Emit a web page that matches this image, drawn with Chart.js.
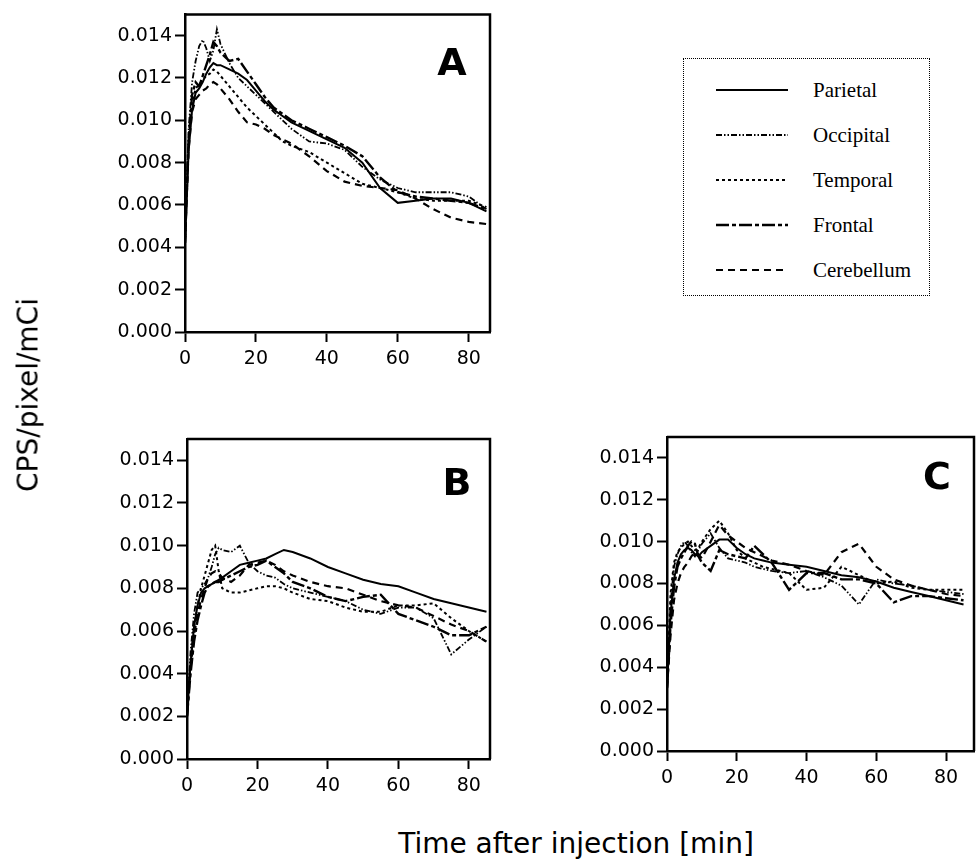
<!DOCTYPE html>
<html><head><meta charset="utf-8">
<script src="https://cdn.jsdelivr.net/npm/chart.js@4.4.0/dist/chart.umd.min.js"></script>
<style>
html,body{margin:0;padding:0;background:#fff;}
#wrap{position:relative;width:976px;height:859px;overflow:hidden;background:#fff;}
#wrap canvas{position:absolute;}
#legend{position:absolute;left:683px;top:58px;width:247px;height:238px;border:1.5px dotted #000;box-sizing:border-box;font-family:"Liberation Serif","Times New Roman",serif;font-size:21px;color:#000;}
.lrow{position:absolute;left:0;height:30px;width:100%;}
.lrow svg{position:absolute;left:31px;top:0;}
.lrow span{position:absolute;left:129px;top:0;line-height:30px;white-space:nowrap;}
#ytitle{position:absolute;left:28px;top:395px;transform:translate(-50%,-50%) rotate(-90deg);font-family:"DejaVu Sans",sans-serif;font-size:28px;white-space:nowrap;color:#000;}
#xtitle{position:absolute;left:576px;top:843px;transform:translate(-50%,-50%);font-family:"DejaVu Sans",sans-serif;font-size:28px;white-space:nowrap;color:#000;}
</style></head>
<body>
<div id="wrap">
<canvas id="cA"></canvas>
<canvas id="cB"></canvas>
<canvas id="cC"></canvas>
<div id="legend"></div>
<div id="ytitle">CPS/pixel/mCi</div>
<div id="xtitle">Time after injection [min]</div>
</div>
<script>
// ---- data ----
const timeMin = [0,1,2,3,4,5,6,7,8,9,10,12.5,15,17.5,20,22.5,25,27.5,30,35,40,45,50,55,60,65,70,75,80,85];
const seriesNames = ['Parietal','Occipital','Temporal','Frontal','Cerebellum'];
const panelLetters = ['A','B','C'];
const yTickValues = [0,0.002,0.004,0.006,0.008,0.010,0.012,0.014];
const xTickValues = [0,20,40,60,80];

const aParietal   = [0.0042,0.0085,0.0105,0.0113,0.0115,0.0118,0.0122,0.0125,0.0127,0.0126,0.0126,0.0124,0.0122,0.0119,0.0114,0.0109,0.0105,0.0102,0.0099,0.0095,0.0091,0.0087,0.0080,0.0068,0.0061,0.0062,0.0063,0.0063,0.0061,0.0057];
const aOccipital  = [0.0042,0.0095,0.0118,0.0128,0.0135,0.0138,0.0134,0.0128,0.0133,0.0143,0.0136,0.0127,0.0120,0.0116,0.0112,0.0108,0.0104,0.0100,0.0096,0.0090,0.0089,0.0086,0.0078,0.0072,0.0068,0.0066,0.0066,0.0066,0.0064,0.0058];
const aTemporal   = [0.0042,0.0088,0.0108,0.0115,0.0117,0.0119,0.0121,0.0122,0.0124,0.0123,0.0121,0.0116,0.0111,0.0106,0.0102,0.0098,0.0094,0.0090,0.0088,0.0085,0.0080,0.0075,0.0070,0.0068,0.0066,0.0063,0.0062,0.0062,0.0062,0.0059];
const aFrontal    = [0.0042,0.0090,0.0112,0.0118,0.0116,0.0121,0.0126,0.0131,0.0137,0.0135,0.0132,0.0128,0.0129,0.0123,0.0117,0.0111,0.0106,0.0103,0.0100,0.0096,0.0092,0.0088,0.0083,0.0073,0.0066,0.0064,0.0063,0.0062,0.0061,0.0058];
const aCerebellum = [0.0042,0.0086,0.0104,0.0110,0.0112,0.0114,0.0115,0.0117,0.0118,0.0117,0.0115,0.0110,0.0104,0.0099,0.0098,0.0096,0.0093,0.0091,0.0089,0.0083,0.0076,0.0071,0.0069,0.0068,0.0067,0.0063,0.0058,0.0054,0.0052,0.0051];

const bParietal   = [0.0020,0.0045,0.0062,0.0072,0.0078,0.0080,0.0081,0.0082,0.0083,0.0084,0.0085,0.0088,0.0091,0.0092,0.0093,0.0094,0.0096,0.0098,0.0097,0.0094,0.0090,0.0087,0.0084,0.0082,0.0081,0.0078,0.0075,0.0073,0.0071,0.0069];
const bOccipital  = [0.0020,0.0050,0.0068,0.0078,0.0080,0.0082,0.0085,0.0090,0.0096,0.0099,0.0098,0.0097,0.0100,0.0092,0.0088,0.0086,0.0085,0.0082,0.0080,0.0078,0.0076,0.0074,0.0070,0.0068,0.0071,0.0071,0.0066,0.0049,0.0056,0.0062];
const bTemporal   = [0.0020,0.0045,0.0062,0.0072,0.0080,0.0086,0.0092,0.0098,0.0100,0.0088,0.0080,0.0078,0.0078,0.0079,0.0080,0.0081,0.0081,0.0080,0.0078,0.0075,0.0074,0.0071,0.0069,0.0069,0.0072,0.0072,0.0073,0.0066,0.0060,0.0055];
const bFrontal    = [0.0020,0.0040,0.0055,0.0065,0.0072,0.0078,0.0081,0.0082,0.0083,0.0083,0.0084,0.0086,0.0088,0.0090,0.0091,0.0093,0.0090,0.0087,0.0083,0.0080,0.0076,0.0074,0.0076,0.0077,0.0068,0.0065,0.0062,0.0058,0.0058,0.0062];
const bCerebellum = [0.0020,0.0042,0.0058,0.0068,0.0075,0.0080,0.0085,0.0087,0.0088,0.0087,0.0085,0.0083,0.0086,0.0091,0.0092,0.0093,0.0091,0.0088,0.0086,0.0083,0.0081,0.0080,0.0077,0.0074,0.0072,0.0071,0.0067,0.0063,0.0060,0.0055];

const cParietal   = [0.0030,0.0065,0.0082,0.0090,0.0094,0.0096,0.0097,0.0096,0.0094,0.0093,0.0095,0.0098,0.0101,0.0101,0.0097,0.0094,0.0092,0.0091,0.0090,0.0089,0.0088,0.0086,0.0084,0.0083,0.0081,0.0078,0.0076,0.0074,0.0072,0.0070];
const cOccipital  = [0.0030,0.0070,0.0088,0.0094,0.0098,0.0100,0.0098,0.0095,0.0093,0.0096,0.0099,0.0104,0.0097,0.0092,0.0091,0.0090,0.0088,0.0087,0.0086,0.0085,0.0086,0.0083,0.0079,0.0070,0.0082,0.0080,0.0079,0.0077,0.0076,0.0075];
const cTemporal   = [0.0030,0.0075,0.0090,0.0095,0.0097,0.0099,0.0100,0.0098,0.0096,0.0097,0.0100,0.0106,0.0110,0.0104,0.0096,0.0092,0.0090,0.0088,0.0087,0.0085,0.0077,0.0078,0.0088,0.0084,0.0080,0.0081,0.0078,0.0077,0.0077,0.0077];
const cFrontal    = [0.0030,0.0060,0.0078,0.0088,0.0092,0.0095,0.0098,0.0100,0.0099,0.0093,0.0090,0.0086,0.0096,0.0094,0.0093,0.0092,0.0098,0.0094,0.0090,0.0077,0.0085,0.0085,0.0082,0.0082,0.0080,0.0071,0.0074,0.0074,0.0073,0.0072];
const cCerebellum = [0.0030,0.0055,0.0072,0.0080,0.0085,0.0088,0.0090,0.0093,0.0095,0.0094,0.0092,0.0100,0.0108,0.0103,0.0100,0.0097,0.0095,0.0093,0.0091,0.0089,0.0086,0.0084,0.0095,0.0099,0.0088,0.0082,0.0079,0.0077,0.0075,0.0074];

// ---- styles ----
const lineStyles = [
  {dash: [], width: 2},
  {dash: [6,2,1.5,2,1.5,2], width: 1.8},
  {dash: [3,3], width: 2},
  {dash: [13,3,4,3], width: 2.4},
  {dash: [7,5], width: 2.2}
];

function buildDatasets(seriesList){
  return seriesList.map((vals, i) => ({
    label: seriesNames[i],
    data: vals.map((v, k) => ({x: timeMin[k], y: v})),
    borderColor: '#000',
    backgroundColor: '#000',
    borderWidth: lineStyles[i].width,
    borderDash: lineStyles[i].dash,
    pointRadius: 0,
    tension: 0,
    fill: false
  }));
}

const framePlugin = {
  id: 'frame',
  afterDraw(chart, args, opts){
    const ctx = chart.ctx, a = chart.chartArea;
    ctx.save();
    ctx.lineWidth = 2.5; ctx.strokeStyle = '#000'; ctx.setLineDash([]);
    ctx.beginPath();
    ctx.moveTo(a.left, a.top); ctx.lineTo(a.right, a.top); ctx.lineTo(a.right, a.bottom);
    ctx.stroke();
    ctx.font = 'bold 38px "DejaVu Sans"';
    ctx.textAlign = 'center'; ctx.textBaseline = 'middle'; ctx.fillStyle = '#000';
    ctx.fillText(opts.letter, a.right + opts.dx, a.top + opts.dy);
    ctx.restore();
  }
};

function makePanel(id, seriesList, g){
  const cv = document.getElementById(id);
  cv.width = g.w; cv.height = g.h;
  cv.style.left = g.x + 'px'; cv.style.top = g.y + 'px';
  cv.style.width = g.w + 'px'; cv.style.height = g.h + 'px';
  const yW = g.left - g.x, xH = (g.y + g.h) - g.bottom;
  const tickFont = {family: '"DejaVu Sans"', size: 19};
  return new Chart(cv, {
    type: 'line',
    data: {datasets: buildDatasets(seriesList)},
    options: {
      responsive: false, animation: false, devicePixelRatio: 1,
      layout: {padding: {left: 0, top: g.top - g.y, right: (g.x + g.w) - g.right, bottom: 0}},
      plugins: {legend: {display: false}, tooltip: {enabled: false}, frame: {letter: g.letter, dx: g.ldx, dy: g.ldy}},
      scales: {
        x: {
          type: 'linear', min: 0, max: g.xmax,
          afterFit: s => { s.height = xH; },
          afterBuildTicks: s => { s.ticks = xTickValues.map(v => ({value: v})); },
          ticks: {color: '#000', font: tickFont, padding: 6, maxRotation: 0, autoSkip: false, callback: v => String(v)},
          grid: {drawOnChartArea: false, drawTicks: true, tickLength: 10, tickWidth: 2, tickColor: '#000'},
          border: {display: true, color: '#000', width: 2.5}
        },
        y: {
          type: 'linear', min: 0, max: 0.015,
          afterFit: s => { s.width = yW; },
          afterBuildTicks: s => { s.ticks = yTickValues.map(v => ({value: v})); },
          ticks: {color: '#000', font: tickFont, padding: 3, autoSkip: false, callback: v => Number(v).toFixed(3)},
          grid: {drawOnChartArea: false, drawTicks: true, tickLength: 10, tickWidth: 2, tickColor: '#000'},
          border: {display: true, color: '#000', width: 2.5}
        }
      }
    },
    plugins: [framePlugin]
  });
}

makePanel('cA', [aParietal, aOccipital, aTemporal, aFrontal, aCerebellum],
  {x: 0, y: 0, w: 500, h: 400, left: 185, top: 13, right: 490, bottom: 332, xmax: 86, letter: panelLetters[0], ldx: -38, ldy: 51});
makePanel('cB', [bParietal, bOccipital, bTemporal, bFrontal, bCerebellum],
  {x: 0, y: 400, w: 500, h: 420, left: 187, top: 439, right: 490, bottom: 759, xmax: 86, letter: panelLetters[1], ldx: -33, ldy: 46});
makePanel('cC', [cParietal, cOccipital, cTemporal, cFrontal, cCerebellum],
  {x: 480, y: 400, w: 496, h: 420, left: 667, top: 437, right: 974, bottom: 751, xmax: 88, letter: panelLetters[2], ldx: -37, ldy: 42});

// ---- legend ----
const legend = document.getElementById('legend');
const rowTops = [31, 76, 121, 166, 211];
seriesNames.forEach((name, i) => {
  const row = document.createElement('div');
  row.className = 'lrow';
  row.style.top = (rowTops[i] - 15) + 'px';
  const st = lineStyles[i];
  row.innerHTML = '<svg width="74" height="30"><line x1="1" y1="15" x2="73" y2="15" stroke="#000" stroke-width="' + st.width +
    '" stroke-dasharray="' + (st.dash.length ? st.dash.join(',') : 'none') + '"/></svg><span>' + name + '</span>';
  legend.appendChild(row);
});
</script>
</body></html>
